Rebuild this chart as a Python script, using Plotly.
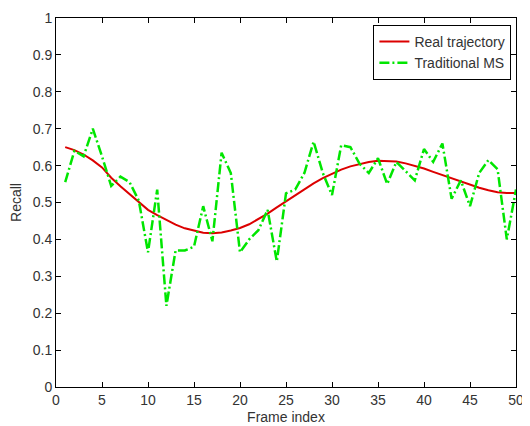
import plotly.graph_objects as go

frames = list(range(1, 51))
real_trajectory = [0.650, 0.642, 0.630, 0.614, 0.595, 0.567, 0.544, 0.522, 0.500, 0.480,
                   0.466, 0.453, 0.440, 0.430, 0.423, 0.418, 0.417, 0.419, 0.424, 0.431,
                   0.441, 0.455, 0.470, 0.487, 0.503, 0.520, 0.537, 0.552, 0.566, 0.578,
                   0.589, 0.598, 0.605, 0.610, 0.613, 0.613, 0.611, 0.606, 0.600, 0.592,
                   0.583, 0.574, 0.565, 0.556, 0.547, 0.540, 0.533, 0.528, 0.526, 0.526]
traditional_ms = [0.555, 0.640, 0.625, 0.700, 0.625, 0.545, 0.570, 0.555, 0.505, 0.365,
                  0.535, 0.220, 0.370, 0.370, 0.380, 0.490, 0.395, 0.635, 0.580, 0.365,
                  0.400, 0.425, 0.480, 0.340, 0.525, 0.535, 0.580, 0.665, 0.580, 0.520,
                  0.655, 0.650, 0.605, 0.580, 0.620, 0.550, 0.610, 0.585, 0.560, 0.645,
                  0.610, 0.660, 0.510, 0.560, 0.490, 0.580, 0.615, 0.590, 0.400, 0.535]
x_ticks = [0, 5, 10, 15, 20, 25, 30, 35, 40, 45, 50]
y_ticks = [0, 0.1, 0.2, 0.3, 0.4, 0.5, 0.6, 0.7, 0.8, 0.9, 1]
y_tick_labels = ["0", "0.1", "0.2", "0.3", "0.4", "0.5", "0.6", "0.7", "0.8", "0.9", "1"]

fig = go.Figure()
fig.add_trace(go.Scatter(x=frames, y=real_trajectory, mode="lines", name="Real trajectory",
                         line=dict(color="rgb(220,0,0)", width=2)))
fig.add_trace(go.Scatter(x=frames, y=traditional_ms, mode="lines", name="Traditional MS",
                         line=dict(color="rgb(0,230,0)", width=2.5, dash="10px,3px,2px,3px")))

axis_common = dict(showgrid=False, zeroline=False, showline=True, linecolor="black",
                   linewidth=1, mirror="ticks", ticks="inside", ticklen=5,
                   tickcolor="black", ticklabeloverflow="allow",
                   tickfont=dict(family="Liberation Sans, Arial", size=14, color="#333"))

fig.update_layout(
    width=517, height=418,
    margin=dict(l=48, r=1, t=10, b=39),
    paper_bgcolor="white", plot_bgcolor="white",
    font=dict(family="Liberation Sans, Arial", size=14, color="#333"),
    xaxis=dict(range=[0, 50], tickvals=x_ticks, title=dict(text="Frame index", standoff=5,
               font=dict(size=14)), **axis_common),
    yaxis=dict(range=[0, 1], tickvals=y_ticks, ticktext=y_tick_labels,
               title=dict(text="Recall", standoff=8, font=dict(size=14)), **axis_common),
    legend=dict(x=0.99, y=0.981, xanchor="right", yanchor="top", bordercolor="black",
                borderwidth=1, bgcolor="white", font=dict(size=14), tracegroupgap=0),
    showlegend=True,
)

fig.write_html("out.html")
